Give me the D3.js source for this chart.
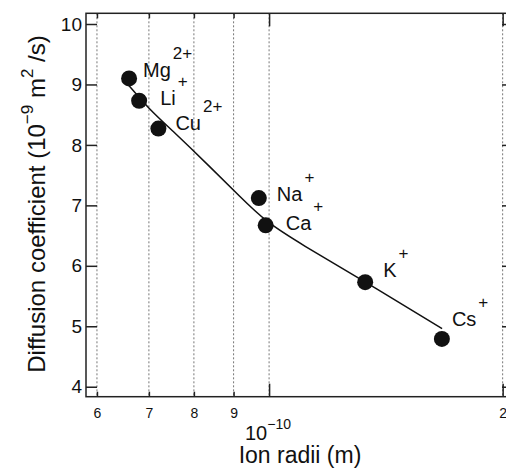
<!DOCTYPE html>
<html>
<head>
<meta charset="utf-8">
<script src="https://cdn.jsdelivr.net/npm/d3@7"></script>
<style>
  html, body { margin: 0; padding: 0; background: #fff; }
  svg { display: block; }
  text { font-family: "Liberation Sans", Arial, sans-serif; fill: #111; }
</style>
</head>
<body>
<svg id="chart" width="506" height="470"></svg>
<script>
// ---- data ----
const ions = ["Mg", "Li", "Cu", "Na", "Ca", "K", "Cs"];
const charges = ["2+", "+", "2+", "+", "+", "+", "+"];
const ionRadii = [0.66e-10, 0.68e-10, 0.72e-10, 0.97e-10, 0.99e-10, 1.33e-10, 1.67e-10];
const diffusion = [9.10, 8.73, 8.27, 7.12, 6.67, 5.73, 4.79];

// fitted curve
const fitRadii = [0.660e-10, 0.702e-10, 0.746e-10, 0.839e-10, 0.918e-10, 0.990e-10, 1.096e-10, 1.332e-10, 1.671e-10];
const fitDiffusion = [8.98, 8.58, 8.27, 7.64, 7.14, 6.73, 6.37, 5.73, 4.96];

const yTicks = [4, 5, 6, 7, 8, 9, 10];
const xMinorTicks = [0.6e-10, 0.7e-10, 0.8e-10, 0.9e-10];
const xMinorLabels = ["6", "7", "8", "9"];
const xMajorTicks = [1e-10, 2e-10];
const xMajorLabels = ["", "2"];

// ---- layout ----
const pL = 86, pR = 508, pT = 13.3, pB = 396.7;
const labelOffsets = [[14, -1], [21, 4], [17, 1], [18, 3], [20, 5], [18, -5], [10, -13]];

const svg = d3.select("#chart");

const x = d3.scaleLog().domain([0.5808e-10, 2.032e-10]).range([pL, pR]);
const y = d3.scaleLinear().domain([3.835, 10.177]).range([pB, pT]);

// gridlines
svg.append("g").selectAll("line")
  .data(xMinorTicks.concat(xMajorTicks))
  .join("line")
  .attr("x1", d => x(d)).attr("x2", d => x(d))
  .attr("y1", pT).attr("y2", pB)
  .attr("stroke", "#777").attr("stroke-width", 1)
  .attr("stroke-dasharray", "2,2");

const axisColor = "#222";
const FONT = "Liberation Sans, Arial, sans-serif";
function styleAxis(g) {
  g.select(".domain").remove();
  g.selectAll(".tick line").attr("stroke", axisColor).attr("stroke-width", 1.5);
}

// bottom minor
svg.append("g").attr("transform", `translate(0,${pB})`)
  .call(d3.axisBottom(x).tickValues(xMinorTicks).tickSize(-5).tickPadding(11)
    .tickFormat((d, i) => xMinorLabels[i]))
  .call(styleAxis)
  .call(g => g.selectAll(".tick text").attr("font-size", 14).attr("font-family", FONT).attr("fill", "#111"));
// bottom major
svg.append("g").attr("transform", `translate(0,${pB})`)
  .call(d3.axisBottom(x).tickValues(xMajorTicks).tickSize(-13).tickPadding(11)
    .tickFormat((d, i) => xMajorLabels[i]))
  .call(styleAxis)
  .call(g => g.selectAll(".tick text").attr("font-size", 14).attr("y", 11).attr("font-family", FONT).attr("fill", "#111"));
// top minor / major
svg.append("g").attr("transform", `translate(0,${pT})`)
  .call(d3.axisTop(x).tickValues(xMinorTicks).tickSize(-5).tickFormat(""))
  .call(styleAxis);
svg.append("g").attr("transform", `translate(0,${pT})`)
  .call(d3.axisTop(x).tickValues(xMajorTicks).tickSize(-13).tickFormat(""))
  .call(styleAxis);
// left
svg.append("g").attr("transform", `translate(${pL},0)`)
  .call(d3.axisLeft(y).tickValues(yTicks).tickSize(-11).tickPadding(4).tickFormat(d3.format("d")))
  .call(styleAxis)
  .call(g => g.selectAll(".tick text").attr("font-size", 19).attr("font-family", FONT).attr("fill", "#111"));
// right
svg.append("g").attr("transform", `translate(${pR},0)`)
  .call(d3.axisRight(y).tickValues(yTicks).tickSize(-6).tickFormat(""))
  .call(styleAxis);

// frame
svg.append("rect")
  .attr("x", pL).attr("y", pT)
  .attr("width", pR - pL).attr("height", pB - pT)
  .attr("fill", "none").attr("stroke", axisColor).attr("stroke-width", 1.5);

// fit curve
const fitData = fitRadii.map((r, i) => [r, fitDiffusion[i]]);
svg.append("path")
  .datum(fitData)
  .attr("d", d3.line().x(d => x(d[0])).y(d => y(d[1])).curve(d3.curveBasis))
  .attr("fill", "none").attr("stroke", "#111").attr("stroke-width", 1.5);

// points
const pts = ions.map((n, i) => ({ name: n, charge: charges[i], r: ionRadii[i], d: diffusion[i], off: labelOffsets[i] }));
svg.append("g").selectAll("circle")
  .data(pts).join("circle")
  .attr("cx", d => x(d.r)).attr("cy", d => y(d.d)).attr("r", 8)
  .attr("fill", "#111");

// labels
const lab = svg.append("g").selectAll("text")
  .data(pts).join("text")
  .attr("x", d => x(d.r) + d.off[0])
  .attr("y", d => y(d.d) + d.off[1])
  .attr("font-size", 20);
lab.append("tspan").text(d => d.name);
lab.append("tspan").attr("dx", 2).attr("dy", -18).attr("font-size", 17).text(d => d.charge);

// x axis exponent and title
const xt = svg.append("text").attr("x", 245).attr("y", 440).attr("font-size", 20);
xt.append("tspan").text("10");
xt.append("tspan").attr("dy", -11).attr("font-size", 14).text("\u221210");

svg.append("text")
  .attr("x", 300).attr("y", 463)
  .attr("text-anchor", "middle")
  .attr("font-size", 23)
  .text("Ion radii (m)");

// y axis title
const yt = svg.append("text")
  .attr("transform", "translate(45,204) rotate(-90)")
  .attr("text-anchor", "middle")
  .attr("font-size", 24);
yt.append("tspan").text("Diffusion coefficient (10");
yt.append("tspan").attr("dy", -12).attr("font-size", 17).text("\u22129");
yt.append("tspan").attr("dy", 12).text(" m");
yt.append("tspan").attr("dy", -12).attr("font-size", 17).text("2");
yt.append("tspan").attr("dy", 12).text(" /s)");
</script>
</body>
</html>
